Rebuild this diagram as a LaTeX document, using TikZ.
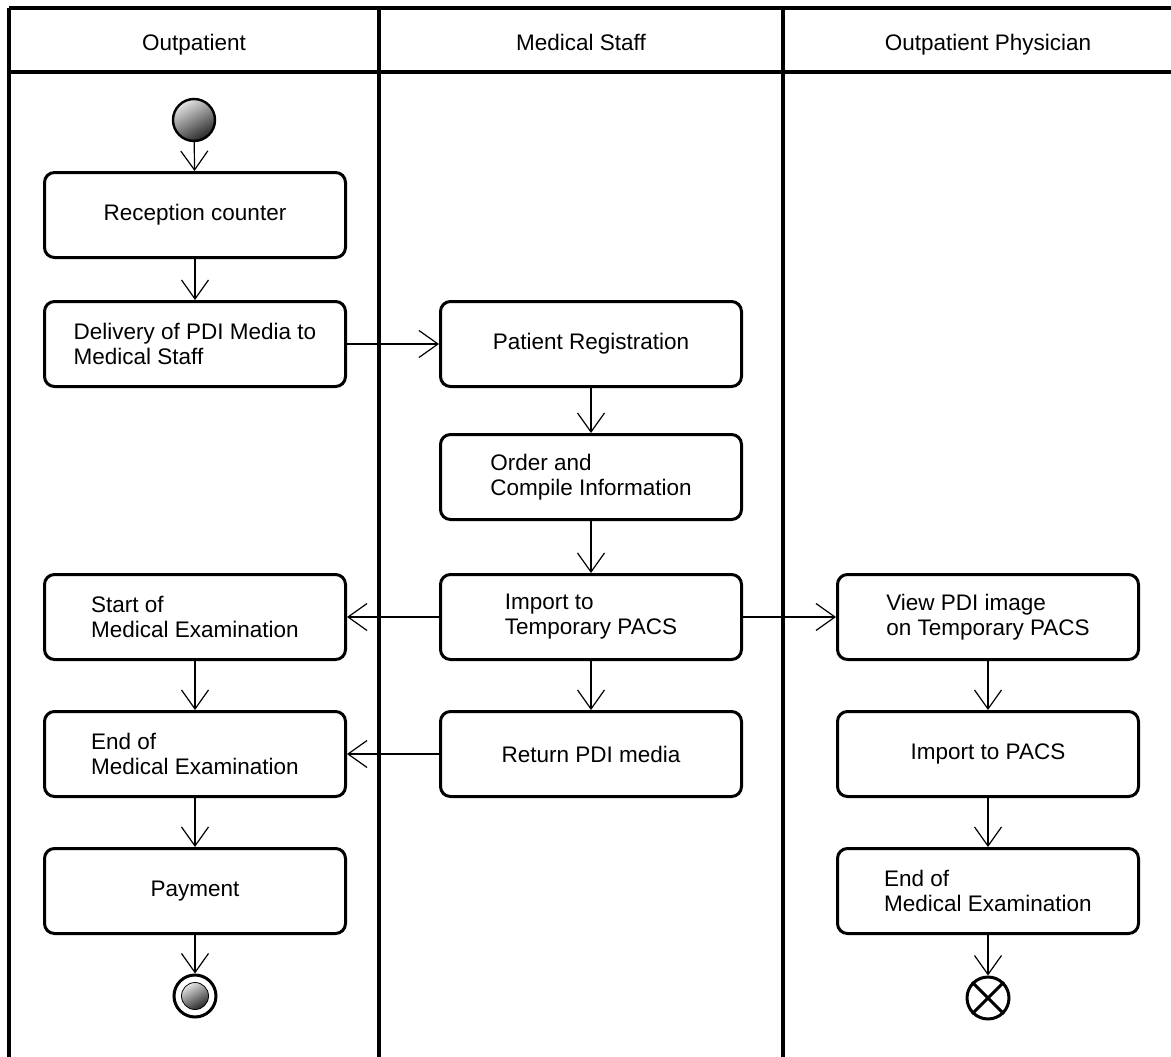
\documentclass[tikz,border=0pt]{standalone}
\usepackage{fontspec}
\setmainfont{Liberation Sans}
\usetikzlibrary{arrows.meta}
\begin{document}
\begin{tikzpicture}[x=1pt,y=-1pt,
  lane/.style={line width=3.2pt},
  act/.style={draw, line width=3pt, rounded corners=10pt, minimum width=301pt, minimum height=85pt, align=left, inner sep=0pt, font=\fontsize{22.5}{25}\selectfont},
  hdr/.style={anchor=base, font=\fontsize{22.5}{25}\selectfont},
  flow/.style={draw, line width=1.2pt, -{Straight Barb[length=19pt,width=27pt]}},
  startnode/.style={circle, draw, line width=2.4pt, minimum size=42pt, inner sep=0pt, top color=gray!20, bottom color=black!85, shading angle=30},
  endouter/.style={circle, draw, line width=3pt, minimum size=42pt, inner sep=0pt},
]
\useasboundingbox (0,0) rectangle (1171,1057);
% swimlanes
\draw[lane] (9,8) -- (1180,8);
\draw[lane] (9,72) -- (1180,72);
\draw[lane] (9,8) -- (9,1070);
\draw[lane] (379,8) -- (379,1070);
\draw[lane] (783,8) -- (783,1070);
\node[hdr] (h1) at (194,51) {Outpatient};
\node[hdr] (h2) at (581,51) {Medical Staff};
\node[hdr] (h3) at (988,51) {Outpatient Physician};
% nodes
\node[startnode] (start) at (194,120) {};
\node[act] (rec) at (195,215) {Reception counter};
\node[act] (deliv) at (195,344) {Delivery of PDI Media to\\Medical Staff};
\node[act] (preg) at (591,344) {Patient Registration};
\node[act] (order) at (591,477) {Order and\\Compile Information};
\node[act] (imp) at (591,617) {Import to\\Temporary PACS};
\node[act] (ret) at (591,754) {Return PDI media};
\node[act] (sexam) at (195,617) {Start of\\Medical Examination};
\node[act] (eexam) at (195,754) {End of\\Medical Examination};
\node[act] (pay) at (195,891) {Payment};
\node[act] (view) at (988,617) {View PDI image\\on Temporary PACS};
\node[act] (ipacs) at (988,754) {Import to PACS};
\node[act] (eright) at (988,891) {End of\\Medical Examination};
\node[endouter] (final) at (195,996) {};
\shade[top color=gray!20, bottom color=black!85, shading angle=30, draw, line width=0.8pt] (final.center) circle (13.5pt);
\node[endouter] (ffinal) at (988,998) {};
\draw[line width=3pt] (ffinal.north west) -- (ffinal.south east);
\draw[line width=3pt] (ffinal.north east) -- (ffinal.south west);
% flows
\draw[flow] (start) -- (rec);
\draw[flow] (rec) -- (deliv);
\draw[flow] (deliv) -- (preg);
\draw[flow] (preg) -- (order);
\draw[flow] (order) -- (imp);
\draw[flow] (imp) -- (sexam);
\draw[flow] (imp) -- (view);
\draw[flow] (imp) -- (ret);
\draw[flow] (ret) -- (eexam);
\draw[flow] (sexam) -- (eexam);
\draw[flow] (eexam) -- (pay);
\draw[flow] (pay) -- (final);
\draw[flow] (view) -- (ipacs);
\draw[flow] (ipacs) -- (eright);
\draw[flow] (eright) -- (ffinal);
\end{tikzpicture}
\end{document}
